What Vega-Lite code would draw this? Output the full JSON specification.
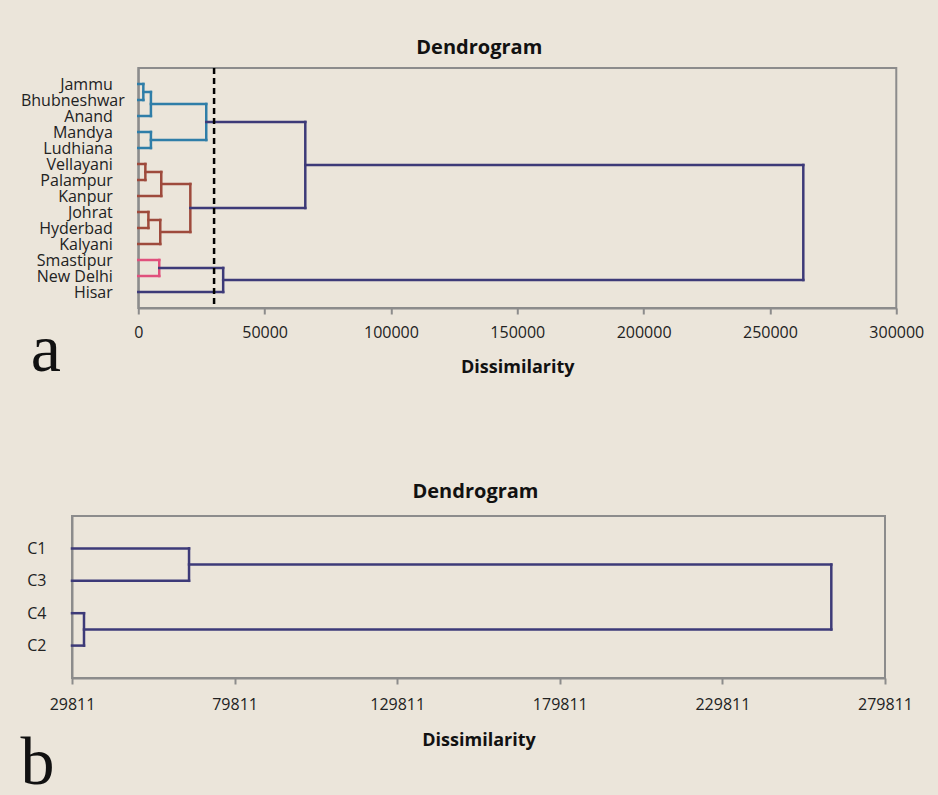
{
  "$schema": "https://vega.github.io/schema/vega-lite/v6.json",
  "background": "#ebe5da",
  "padding": {"left": 19, "top": 36, "right": 5, "bottom": 5},
  "columns": 1,
  "center": true,
  "spacing": 96,
  "config": {
    "font": "Open Sans",
    "view": {"stroke": "#8c8c8c", "strokeWidth": 2},
    "axis": {"grid": false, "domainColor": "#8c8c8c", "domainWidth": 2, "labelFont": "Open Sans", "labelFontSize": 16, "labelColor": "#222222", "tickColor": "#8c8c8c", "tickWidth": 2}
  },
  "datasets": {
    "a": [
      {"x": 0, "x2": 2000, "y": 1, "y2": 1, "c": "blue"},
      {"x": 0, "x2": 2000, "y": 2, "y2": 2, "c": "blue"},
      {"x": 2000, "x2": 2000, "y": 1, "y2": 2, "c": "blue"},
      {"x": 2000, "x2": 5000, "y": 1.5, "y2": 1.5, "c": "blue"},
      {"x": 0, "x2": 5000, "y": 3, "y2": 3, "c": "blue"},
      {"x": 5000, "x2": 5000, "y": 1.5, "y2": 3, "c": "blue"},
      {"x": 5000, "x2": 26900, "y": 2.25, "y2": 2.25, "c": "blue"},
      {"x": 0, "x2": 5000, "y": 4, "y2": 4, "c": "blue"},
      {"x": 0, "x2": 5000, "y": 5, "y2": 5, "c": "blue"},
      {"x": 5000, "x2": 5000, "y": 4, "y2": 5, "c": "blue"},
      {"x": 5000, "x2": 26900, "y": 4.5, "y2": 4.5, "c": "blue"},
      {"x": 26900, "x2": 26900, "y": 2.25, "y2": 4.5, "c": "blue"},
      {"x": 26900, "x2": 66100, "y": 3.375, "y2": 3.375, "c": "purple"},
      {"x": 0, "x2": 2800, "y": 6, "y2": 6, "c": "brown"},
      {"x": 0, "x2": 2800, "y": 7, "y2": 7, "c": "brown"},
      {"x": 2800, "x2": 2800, "y": 6, "y2": 7, "c": "brown"},
      {"x": 2800, "x2": 9100, "y": 6.5, "y2": 6.5, "c": "brown"},
      {"x": 0, "x2": 9100, "y": 8, "y2": 8, "c": "brown"},
      {"x": 9100, "x2": 9100, "y": 6.5, "y2": 8, "c": "brown"},
      {"x": 9100, "x2": 20600, "y": 7.25, "y2": 7.25, "c": "brown"},
      {"x": 0, "x2": 4000, "y": 9, "y2": 9, "c": "brown"},
      {"x": 0, "x2": 4000, "y": 10, "y2": 10, "c": "brown"},
      {"x": 4000, "x2": 4000, "y": 9, "y2": 10, "c": "brown"},
      {"x": 4000, "x2": 8700, "y": 9.5, "y2": 9.5, "c": "brown"},
      {"x": 0, "x2": 8700, "y": 11, "y2": 11, "c": "brown"},
      {"x": 8700, "x2": 8700, "y": 9.5, "y2": 11, "c": "brown"},
      {"x": 8700, "x2": 20600, "y": 10.25, "y2": 10.25, "c": "brown"},
      {"x": 20600, "x2": 20600, "y": 7.25, "y2": 10.25, "c": "brown"},
      {"x": 20600, "x2": 66100, "y": 8.75, "y2": 8.75, "c": "purple"},
      {"x": 66100, "x2": 66100, "y": 3.375, "y2": 8.75, "c": "purple"},
      {"x": 66100, "x2": 263200, "y": 6.0625, "y2": 6.0625, "c": "purple"},
      {"x": 0, "x2": 8300, "y": 12, "y2": 12, "c": "pink"},
      {"x": 0, "x2": 8300, "y": 13, "y2": 13, "c": "pink"},
      {"x": 8300, "x2": 8300, "y": 12, "y2": 13, "c": "pink"},
      {"x": 8300, "x2": 33600, "y": 12.5, "y2": 12.5, "c": "purple"},
      {"x": 0, "x2": 33600, "y": 14, "y2": 14, "c": "purple"},
      {"x": 33600, "x2": 33600, "y": 12.5, "y2": 14, "c": "purple"},
      {"x": 33600, "x2": 263200, "y": 13.25, "y2": 13.25, "c": "purple"},
      {"x": 263200, "x2": 263200, "y": 6.0625, "y2": 13.25, "c": "purple"}
    ],
    "b": [
      {"x": 29811, "x2": 65800, "y": 1, "y2": 1, "c": "purple"},
      {"x": 29811, "x2": 65800, "y": 2, "y2": 2, "c": "purple"},
      {"x": 65800, "x2": 65800, "y": 1, "y2": 2, "c": "purple"},
      {"x": 65800, "x2": 263300, "y": 1.5, "y2": 1.5, "c": "purple"},
      {"x": 29811, "x2": 33500, "y": 3, "y2": 3, "c": "purple"},
      {"x": 29811, "x2": 33500, "y": 4, "y2": 4, "c": "purple"},
      {"x": 33500, "x2": 33500, "y": 3, "y2": 4, "c": "purple"},
      {"x": 33500, "x2": 263300, "y": 3.5, "y2": 3.5, "c": "purple"},
      {"x": 263300, "x2": 263300, "y": 1.5, "y2": 3.5, "c": "purple"}
    ]
  },
  "concat": [
    {
      "width": 758,
      "height": 240,
      "title": {"text": "Dendrogram", "font": "Open Sans", "fontSize": 20, "fontWeight": "bold", "color": "#111111", "anchor": "middle", "frame": "group", "dx": -38, "offset": -7, "baseline": "alphabetic"},
      "layer": [
        {
          "data": {"name": "a"},
          "mark": {"type": "rule", "strokeWidth": 2.5, "strokeCap": "square"},
          "encoding": {
            "x": {"field": "x", "type": "quantitative", "scale": {"domain": [0, 300000], "nice": false},
              "axis": {"title": "Dissimilarity", "titleFont": "Open Sans", "titleFontSize": 18, "titleFontWeight": "bold", "titleColor": "#111111", "titleBaseline": "alphabetic", "titleY": 64,
                "values": [0, 50000, 100000, 150000, 200000, 250000, 300000], "format": "d", "tickSize": 6, "labelPadding": 23, "labelBaseline": "alphabetic", "labelFlush": false, "labelOverlap": false}},
            "x2": {"field": "x2"},
            "y": {"field": "y", "type": "quantitative", "scale": {"domain": [0, 15], "reverse": true, "nice": false},
              "axis": {"title": "a", "titleFont": "Liberation Serif", "titleFontSize": 68, "titleFontWeight": "normal", "titleColor": "#111111", "titleAngle": 0, "titleAlign": "center", "titleBaseline": "alphabetic", "titleX": -93, "titleY": 302,
                "values": [1, 2, 3, 4, 5, 6, 7, 8, 9, 10, 11, 12, 13, 14], "ticks": false, "domain": true,
                "labelPadding": {"condition": {"test": "datum.value == 2", "value": 14}, "value": 26},
                "labelExpr": "['', 'Jammu', 'Bhubneshwar', 'Anand', 'Mandya', 'Ludhiana', 'Vellayani', 'Palampur', 'Kanpur', 'Johrat', 'Hyderbad', 'Kalyani', 'Smastipur', 'New Delhi', 'Hisar'][datum.value]",
                "labelBaseline": "middle", "labelOverlap": false}},
            "y2": {"field": "y2"},
            "color": {"field": "c", "type": "nominal", "scale": {"domain": ["blue", "brown", "pink", "purple"], "range": ["#2f7ea8", "#9e4a3c", "#e0507c", "#3d3a78"]}, "legend": null}
          }
        },
        {
          "data": {"values": [{"cut": 30000}]},
          "mark": {"type": "rule", "color": "#000000", "strokeWidth": 2.5, "strokeDash": [6, 4]},
          "encoding": {"x": {"field": "cut", "type": "quantitative"}}
        }
      ]
    },
    {
      "spacing": 0,
      "hconcat": [
        {
          "width": 813,
          "height": 162,
          "title": {"text": "Dendrogram", "font": "Open Sans", "fontSize": 20, "fontWeight": "bold", "color": "#111111", "anchor": "middle", "frame": "group", "dx": -3, "offset": -2, "baseline": "alphabetic"},
          "data": {"name": "b"},
          "mark": {"type": "rule", "strokeWidth": 2.5, "strokeCap": "square", "color": "#3d3a78"},
          "encoding": {
            "x": {"field": "x", "type": "quantitative", "scale": {"domain": [29811, 279811], "nice": false},
              "axis": {"title": "Dissimilarity", "titleFont": "Open Sans", "titleFontSize": 18, "titleFontWeight": "bold", "titleColor": "#111111", "titleBaseline": "alphabetic", "titleY": 67,
                "values": [29811, 79811, 129811, 179811, 229811, 279811], "format": "d", "tickSize": 6, "labelPadding": 25, "labelBaseline": "alphabetic", "labelFlush": false, "labelOverlap": false}},
            "x2": {"field": "x2"},
            "y": {"field": "y", "type": "quantitative", "scale": {"domain": [0, 5], "reverse": true, "nice": false},
              "axis": {"title": "b", "titleFont": "Liberation Serif", "titleFontSize": 68, "titleFontWeight": "normal", "titleColor": "#111111", "titleAngle": 0, "titleAlign": "center", "titleBaseline": "alphabetic", "titleX": -35, "titleY": 267,
                "values": [1, 2, 3, 4], "ticks": false, "labelPadding": 26,
                "labelExpr": "['', 'C1', 'C3', 'C4', 'C2'][datum.value]", "labelBaseline": "middle"}},
            "y2": {"field": "y2"}
          }
        },
        {
          "width": 77,
          "height": 1,
          "view": {"stroke": null, "fill": null},
          "data": {"values": []},
          "mark": {"type": "point", "opacity": 0},
          "encoding": {}
        }
      ]
    }
  ]
}
